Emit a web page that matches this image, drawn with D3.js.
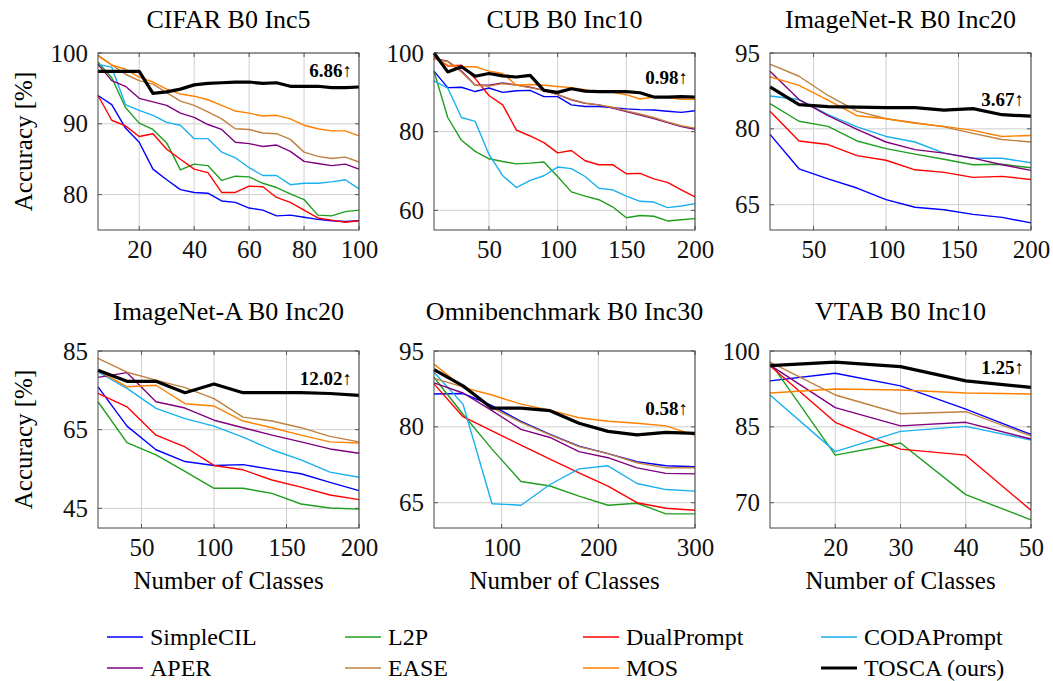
<!DOCTYPE html>
<html>
<head>
<meta charset="utf-8">
<script src="https://cdn.jsdelivr.net/npm/d3@7"></script>
<style>
  body { margin: 0; background: #fff; }
  svg { font-family: "Liberation Serif", "Times New Roman", serif; }
</style>
</head>
<body>
<svg id="chart" width="1053" height="681"></svg>
<script>
// methods in legend order
const methods = ["SimpleCIL", "L2P", "DualPrompt", "CODAPrompt", "APER", "EASE", "MOS", "TOSCA (ours)"];
const colors = ["#0000ff", "#1f9e1f", "#ff0000", "#18b0f0", "#800080", "#bf8040", "#ff8000", "#000000"];

// CIFAR B0 Inc5
const cifarX = [5, 10, 15, 20, 25, 30, 35, 40, 45, 50, 55, 60, 65, 70, 75, 80, 85, 90, 95, 100];
const cifarAcc = [
  [94.0, 92.7, 89.4, 87.4, 83.6, 82.1, 80.7, 80.3, 80.2, 79.1, 78.9, 78.1, 77.8, 77.0, 77.1, 76.8, 76.5, 76.3, 76.2, 76.3],
  [98.7, 96.5, 92.3, 90.1, 89.2, 87.3, 83.5, 84.3, 84.1, 82.0, 82.6, 82.5, 81.6, 81.0, 80.1, 79.3, 77.1, 77.0, 77.6, 77.8],
  [94.0, 90.5, 89.7, 88.2, 88.6, 86.4, 85.0, 83.6, 83.1, 80.3, 80.3, 81.2, 81.1, 79.6, 78.9, 77.8, 76.7, 76.4, 76.1, 76.3],
  [98.4, 98.0, 92.7, 91.9, 91.2, 90.2, 89.8, 87.9, 87.9, 86.0, 85.2, 83.8, 82.7, 82.7, 81.4, 81.6, 81.6, 81.8, 82.1, 80.8],
  [98.4, 96.1, 95.3, 93.6, 93.1, 92.6, 91.5, 90.9, 89.9, 89.2, 87.4, 87.2, 86.8, 87.0, 86.1, 84.7, 84.4, 84.1, 84.3, 83.6],
  [99.7, 98.3, 97.0, 96.1, 95.6, 94.4, 93.2, 92.6, 91.7, 90.7, 89.3, 89.2, 88.7, 88.6, 87.8, 86.0, 85.4, 85.1, 85.3, 84.6],
  [99.6, 98.3, 97.7, 96.6, 95.9, 94.9, 94.2, 93.9, 93.4, 92.6, 91.8, 91.5, 91.1, 91.2, 90.7, 89.8, 89.3, 89.0, 89.0, 88.3],
  [97.4, 97.4, 97.4, 97.4, 94.3, 94.5, 94.9, 95.5, 95.7, 95.8, 95.9, 95.9, 95.7, 95.8, 95.3, 95.3, 95.3, 95.1, 95.1, 95.2]
];

// CUB B0 Inc10
const cubX = [10, 20, 30, 40, 50, 60, 70, 80, 90, 100, 110, 120, 130, 140, 150, 160, 170, 180, 190, 200];
const cubAcc = [
  [95.4, 91.2, 91.3, 90.2, 91.1, 90.0, 90.4, 90.5, 88.9, 88.9, 86.8, 86.4, 86.4, 86.1, 85.8, 85.6, 85.5, 85.2, 84.9, 85.3],
  [95.4, 83.6, 77.8, 75.0, 73.1, 72.4, 71.8, 72.0, 72.3, 68.6, 64.7, 63.6, 62.7, 60.9, 58.1, 58.7, 58.5, 57.3, 57.6, 57.9],
  [99.1, 96.7, 96.9, 93.5, 89.2, 86.8, 80.4, 78.9, 77.2, 74.6, 75.2, 72.6, 71.6, 71.6, 69.3, 69.4, 68.0, 67.1, 65.2, 63.4],
  [92.9, 91.1, 83.6, 82.6, 74.2, 68.8, 65.8, 67.6, 68.8, 71.0, 70.6, 68.6, 65.6, 65.2, 63.6, 62.3, 62.1, 60.7, 61.1, 61.7],
  [98.6, 97.9, 95.4, 91.8, 91.8, 92.4, 91.9, 91.3, 90.5, 89.4, 88.1, 87.2, 86.8, 86.0, 85.1, 84.2, 83.3, 82.3, 81.3, 80.6],
  [98.6, 97.8, 95.2, 91.8, 91.6, 92.2, 91.8, 91.2, 90.5, 89.4, 88.2, 87.3, 86.8, 86.2, 85.3, 84.5, 83.6, 82.5, 81.5, 80.9],
  [98.8, 96.9, 96.5, 96.5, 95.4, 94.8, 91.8, 92.0, 91.8, 91.5, 91.2, 90.7, 90.0, 90.0, 89.4, 88.3, 88.8, 88.7, 88.2, 88.2],
  [100, 95.2, 96.5, 94.1, 94.8, 94.2, 93.9, 94.3, 90.5, 90.0, 90.9, 90.3, 90.2, 90.2, 90.2, 89.9, 88.8, 88.8, 88.9, 88.8]
];

// ImageNet-R B0 Inc20
const inrX = [20, 40, 60, 80, 100, 120, 140, 160, 180, 200];
const inrAcc = [
  [78.9, 72.1, 70.1, 68.3, 66.0, 64.5, 64.0, 63.1, 62.5, 61.4],
  [85.0, 81.5, 80.5, 77.6, 76.1, 75.0, 74.0, 72.9, 73.0, 72.3],
  [83.5, 77.6, 76.9, 74.7, 73.8, 71.9, 71.4, 70.4, 70.6, 70.0],
  [86.5, 85.8, 82.8, 80.4, 78.5, 77.4, 75.2, 74.2, 74.2, 73.3],
  [91.4, 85.8, 82.6, 79.9, 77.4, 75.9, 75.2, 74.2, 72.9, 71.8],
  [92.8, 90.4, 86.6, 83.5, 82.0, 81.2, 80.4, 79.1, 77.9, 77.4],
  [90.3, 88.6, 85.7, 82.6, 82.0, 81.1, 80.5, 79.7, 78.5, 78.7],
  [88.3, 84.8, 84.4, 84.3, 84.2, 84.2, 83.7, 84.0, 82.8, 82.5]
];

// ImageNet-A B0 Inc20
const inaX = [20, 40, 60, 80, 100, 120, 140, 160, 180, 200];
const inaAcc = [
  [75.9, 65.9, 59.9, 56.9, 55.9, 56.1, 54.9, 53.8, 51.6, 49.5],
  [72.1, 61.7, 58.6, 54.4, 50.1, 50.1, 48.8, 46.1, 45.1, 44.8],
  [74.2, 70.8, 63.6, 60.6, 55.9, 54.8, 52.2, 50.4, 48.4, 47.2],
  [79.7, 75.5, 70.4, 67.8, 65.9, 63.1, 59.9, 57.3, 54.2, 52.9],
  [78.3, 79.5, 72.1, 70.5, 67.4, 65.5, 63.6, 61.9, 60.1, 59.0],
  [83.1, 79.6, 77.6, 75.7, 72.9, 68.2, 67.2, 65.5, 63.3, 61.9],
  [80.1, 75.9, 76.3, 71.6, 71.0, 67.2, 65.5, 63.6, 61.9, 61.6],
  [80.1, 77.3, 77.3, 74.4, 76.6, 74.4, 74.4, 74.4, 74.2, 73.7]
];

// Omnibenchmark B0 Inc30
const omniX = [30, 60, 90, 120, 150, 180, 210, 240, 270, 300];
const omniAcc = [
  [86.5, 86.6, 84.2, 81.1, 78.5, 76.2, 74.7, 73.1, 72.3, 72.1],
  [89.8, 82.5, 75.6, 69.2, 68.3, 66.3, 64.5, 64.9, 62.8, 62.8],
  [88.5, 82.0, 79.2, 76.4, 73.6, 70.9, 68.3, 65.0, 63.9, 63.5],
  [90.8, 84.5, 64.8, 64.5, 68.6, 71.7, 72.3, 68.8, 67.6, 67.3],
  [88.7, 86.7, 83.2, 79.5, 77.9, 75.1, 73.9, 71.9, 70.8, 70.7],
  [89.6, 87.9, 83.8, 80.9, 78.4, 76.1, 74.7, 72.9, 71.9, 71.9],
  [92.4, 87.8, 86.3, 84.5, 83.3, 81.8, 81.1, 80.7, 80.2, 78.3],
  [91.3, 88.1, 83.7, 83.7, 83.2, 80.7, 79.1, 78.4, 78.9, 78.7]
];

// VTAB B0 Inc10
const vtabX = [10, 20, 30, 40, 50];
const vtabAcc = [
  [94.1, 95.6, 93.1, 88.5, 83.5],
  [97.8, 79.4, 81.8, 71.6, 66.6],
  [97.1, 85.9, 80.6, 79.4, 68.5],
  [91.3, 80.1, 84.1, 85.1, 82.4],
  [97.2, 88.8, 85.2, 85.9, 82.6],
  [97.8, 91.3, 87.6, 88.0, 83.2],
  [91.7, 92.5, 92.3, 91.7, 91.5],
  [97.1, 97.8, 96.9, 94.1, 92.8]
];

const titles = ["CIFAR B0 Inc5", "CUB B0 Inc10", "ImageNet-R B0 Inc20", "ImageNet-A B0 Inc20", "Omnibenchmark B0 Inc30", "VTAB B0 Inc10"];
const gains = ["6.86", "0.98", "3.67", "12.02", "0.58", "1.25"];

const panels = [
  { x: cifarX, acc: cifarAcc, xDom: [5, 100], xTicks: [20, 40, 60, 80, 100], yDom: [75, 100], yTicks: [80, 90, 100], gainY: 96.6 },
  { x: cubX, acc: cubAcc, xDom: [10, 200], xTicks: [50, 100, 150, 200], yDom: [55, 100], yTicks: [60, 80, 100], gainY: 92 },
  { x: inrX, acc: inrAcc, xDom: [20, 200], xTicks: [50, 100, 150, 200], yDom: [60, 95], yTicks: [65, 80, 95], gainY: 84.5 },
  { x: inaX, acc: inaAcc, xDom: [20, 200], xTicks: [50, 100, 150, 200], yDom: [40, 85], yTicks: [45, 65, 85], gainY: 76.3 },
  { x: omniX, acc: omniAcc, xDom: [30, 300], xTicks: [100, 200, 300], yDom: [60, 95], yTicks: [65, 80, 95], gainY: 82.4 },
  { x: vtabX, acc: vtabAcc, xDom: [10, 50], xTicks: [20, 30, 40, 50], yDom: [65, 100], yTicks: [70, 85, 100], gainY: 95.4 }
];

const svg = d3.select("#chart");
const colLeft = [98, 434, 770];
const rowTop = [53, 351];
const titleY = [28, 320];
const plotW = 261, plotH = 177;

panels.forEach((p, i) => {
  const col = i % 3, row = Math.floor(i / 3);
  const g = svg.append("g").attr("transform", `translate(${colLeft[col]},${rowTop[row]})`);

  const x = d3.scaleLinear().domain(p.xDom).range([0, plotW]);
  const y = d3.scaleLinear().domain(p.yDom).range([plotH, 0]);

  // grid
  g.append("g")
    .selectAll("line").data(p.xTicks).join("line")
    .attr("x1", d => x(d)).attr("x2", d => x(d))
    .attr("y1", 0).attr("y2", plotH)
    .attr("stroke", "#cfcfcf").attr("stroke-width", 1);
  g.append("g")
    .selectAll("line").data(p.yTicks).join("line")
    .attr("x1", 0).attr("x2", plotW)
    .attr("y1", d => y(d)).attr("y2", d => y(d))
    .attr("stroke", "#cfcfcf").attr("stroke-width", 1);

  // small inward tick marks
  const tickG = g.append("g").attr("stroke", "#555").attr("stroke-width", 1);
  p.xTicks.forEach(t => {
    tickG.append("line").attr("x1", x(t)).attr("x2", x(t)).attr("y1", plotH).attr("y2", plotH - 4);
    tickG.append("line").attr("x1", x(t)).attr("x2", x(t)).attr("y1", 0).attr("y2", 4);
  });
  p.yTicks.forEach(t => {
    tickG.append("line").attr("x1", 0).attr("x2", 4).attr("y1", y(t)).attr("y2", y(t));
    tickG.append("line").attr("x1", plotW).attr("x2", plotW - 4).attr("y1", y(t)).attr("y2", y(t));
  });

  // tick labels
  const xAxis = g.append("g").attr("transform", `translate(0,${plotH})`)
    .call(d3.axisBottom(x).tickValues(p.xTicks).tickSize(0).tickPadding(10));
  const yAxis = g.append("g")
    .call(d3.axisLeft(y).tickValues(p.yTicks).tickSize(0).tickPadding(10));
  [xAxis, yAxis].forEach(a => {
    a.select(".domain").remove();
    a.selectAll("text").attr("font-size", 25).attr("fill", "#111")
      .attr("font-family", "'Liberation Serif', serif");
  });

  // series lines
  const clipId = "clip" + i;
  g.append("clipPath").attr("id", clipId)
    .append("rect").attr("x", -2).attr("y", -2).attr("width", plotW + 4).attr("height", plotH + 4);
  const line = d3.line().x((d, j) => x(p.x[j])).y(d => y(d));
  g.append("g").attr("clip-path", `url(#${clipId})`)
    .selectAll("path").data(p.acc).join("path")
    .attr("d", d => line(d))
    .attr("fill", "none")
    .attr("stroke", (d, k) => colors[k])
    .attr("stroke-width", (d, k) => k === 7 ? 3.2 : 1.4)
    .attr("stroke-linejoin", "round");

  // frame
  g.append("rect").attr("width", plotW).attr("height", plotH)
    .attr("fill", "none").attr("stroke", "#444").attr("stroke-width", 1);

  // gain annotation
  g.append("text")
    .attr("x", plotW - 7).attr("y", y(p.gainY))
    .attr("text-anchor", "end")
    .attr("font-size", 19).attr("font-weight", "bold")
    .text(gains[i] + "\u2191");

  // title
  svg.append("text")
    .attr("x", colLeft[col] + plotW / 2).attr("y", titleY[row])
    .attr("text-anchor", "middle").attr("font-size", 26)
    .text(titles[i]);

  if (row === 1) {
    svg.append("text")
      .attr("x", colLeft[col] + plotW / 2).attr("y", rowTop[row] + plotH + 61)
      .attr("text-anchor", "middle").attr("font-size", 25)
      .text("Number of Classes");
  }
  if (col === 0) {
    svg.append("text")
      .attr("transform", `translate(32,${rowTop[row] + plotH / 2}) rotate(-90)`)
      .attr("text-anchor", "middle").attr("font-size", 25)
      .text("Accuracy [%]");
  }
});

// legend
const legX = [107, 345, 583, 821];
const legY = [637, 668];
const leg = svg.append("g").selectAll("g").data(methods).join("g")
  .attr("transform", (d, i) => `translate(${legX[i % 4]},${legY[Math.floor(i / 4)]})`);
leg.append("line")
  .attr("x1", 0).attr("x2", 36).attr("y1", 0).attr("y2", 0)
  .attr("stroke", (d, i) => colors[i])
  .attr("stroke-width", (d, i) => i === 7 ? 3.2 : 1.6);
leg.append("text")
  .attr("x", 43).attr("y", 8)
  .attr("font-size", 24)
  .text(d => d);
</script>
</body>
</html>
